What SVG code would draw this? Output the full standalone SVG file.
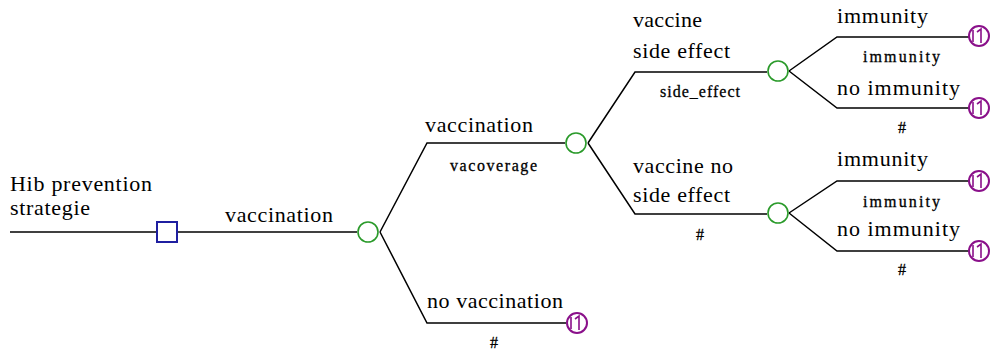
<svg xmlns="http://www.w3.org/2000/svg" width="991" height="354" viewBox="0 0 991 354">
  <style>
    .edge { fill: none; stroke: #000; stroke-width: 1.5; }
    .decision { fill: #fff; stroke: #1f1fa0; stroke-width: 2; }
    .chance { fill: #fff; stroke: #2a9a2a; stroke-width: 1.6; }
    .terminal { fill: #fff; stroke: #8a108a; stroke-width: 2; }
    .mark { fill: none; stroke: #8a108a; stroke-width: 1.6; }
    .lbl { font-size: 22px; fill: #000; }
    .sub { font-size: 16px; fill: #000; stroke: #000; stroke-width: 0.3; }
  </style>
  <defs>
    <g id="markov">
      <circle r="10" class="terminal"/>
      <path class="mark" d="M-6,-6 V6 M-2,-4 L2,-7 V7"/>
    </g>
  </defs>

  <rect width="991" height="354" fill="#fff"/>

  <!-- branch lines -->
  <g id="connectors">
    <path class="edge" d="M10,232 H157"/>
    <path class="edge" d="M177,232 H357"/>
    <path class="edge" d="M380,232 L427,143 H565"/>
    <path class="edge" d="M380,232 L427,323 H566"/>
    <path class="edge" d="M588,143 L635,72 H767"/>
    <path class="edge" d="M588,143 L635,214 H767"/>
    <path class="edge" d="M789,71 L837,37 H969"/>
    <path class="edge" d="M789,71 L837,108 H969"/>
    <path class="edge" d="M789,213 L837,181 H969"/>
    <path class="edge" d="M789,213 L837,251 H969"/>
  </g>

  <!-- labels on branches -->
  <g id="labels" font-family="'Liberation Serif', 'DejaVu Serif', serif">
    <text class="lbl" x="10" y="191" textLength="142">Hib prevention</text>
    <text class="lbl" x="10" y="215" textLength="80">strategie</text>
    <text class="lbl" x="225" y="222" textLength="108">vaccination</text>
    <text class="lbl" x="425" y="132" textLength="108">vaccination</text>
    <text class="sub" x="450" y="171" textLength="87">vacoverage</text>
    <text class="lbl" x="427" y="308" textLength="136">no vaccination</text>
    <text class="sub" x="490" y="348">#</text>
    <text class="lbl" x="633" y="27" textLength="69">vaccine</text>
    <text class="lbl" x="633" y="58" textLength="97">side effect</text>
    <text class="sub" x="660" y="97" textLength="80">side_effect</text>
    <text class="lbl" x="633" y="173" textLength="100">vaccine no</text>
    <text class="lbl" x="633" y="202" textLength="97">side effect</text>
    <text class="sub" x="696" y="240">#</text>
    <text class="lbl" x="837" y="23" textLength="91">immunity</text>
    <text class="sub" x="863" y="62" textLength="77">immunity</text>
    <text class="lbl" x="837" y="95" textLength="123">no immunity</text>
    <text class="sub" x="898" y="133">#</text>
    <text class="lbl" x="837" y="166" textLength="91">immunity</text>
    <text class="sub" x="863" y="207" textLength="77">immunity</text>
    <text class="lbl" x="837" y="236" textLength="123">no immunity</text>
    <text class="sub" x="898" y="275">#</text>
  </g>

  <!-- nodes -->
  <g id="decision-root">
    <rect class="decision" x="157" y="222" width="20" height="20"/>
  </g>
  <g id="chance-vaccination">
    <circle class="chance" cx="368" cy="232" r="10"/>
  </g>
  <g id="chance-side-effect">
    <circle class="chance" cx="576" cy="143" r="10"/>
  </g>
  <g id="chance-immunity-se">
    <circle class="chance" cx="778" cy="71" r="10"/>
  </g>
  <g id="chance-immunity-nose">
    <circle class="chance" cx="778" cy="213" r="10"/>
  </g>
  <g id="term-no-vaccination">
    <use href="#markov" x="577" y="323"/>
  </g>
  <g id="term-se-immunity">
    <use href="#markov" x="979" y="36"/>
  </g>
  <g id="term-se-no-immunity">
    <use href="#markov" x="979" y="108"/>
  </g>
  <g id="term-nose-immunity">
    <use href="#markov" x="979" y="181"/>
  </g>
  <g id="term-nose-no-immunity">
    <use href="#markov" x="979" y="251"/>
  </g>
</svg>
